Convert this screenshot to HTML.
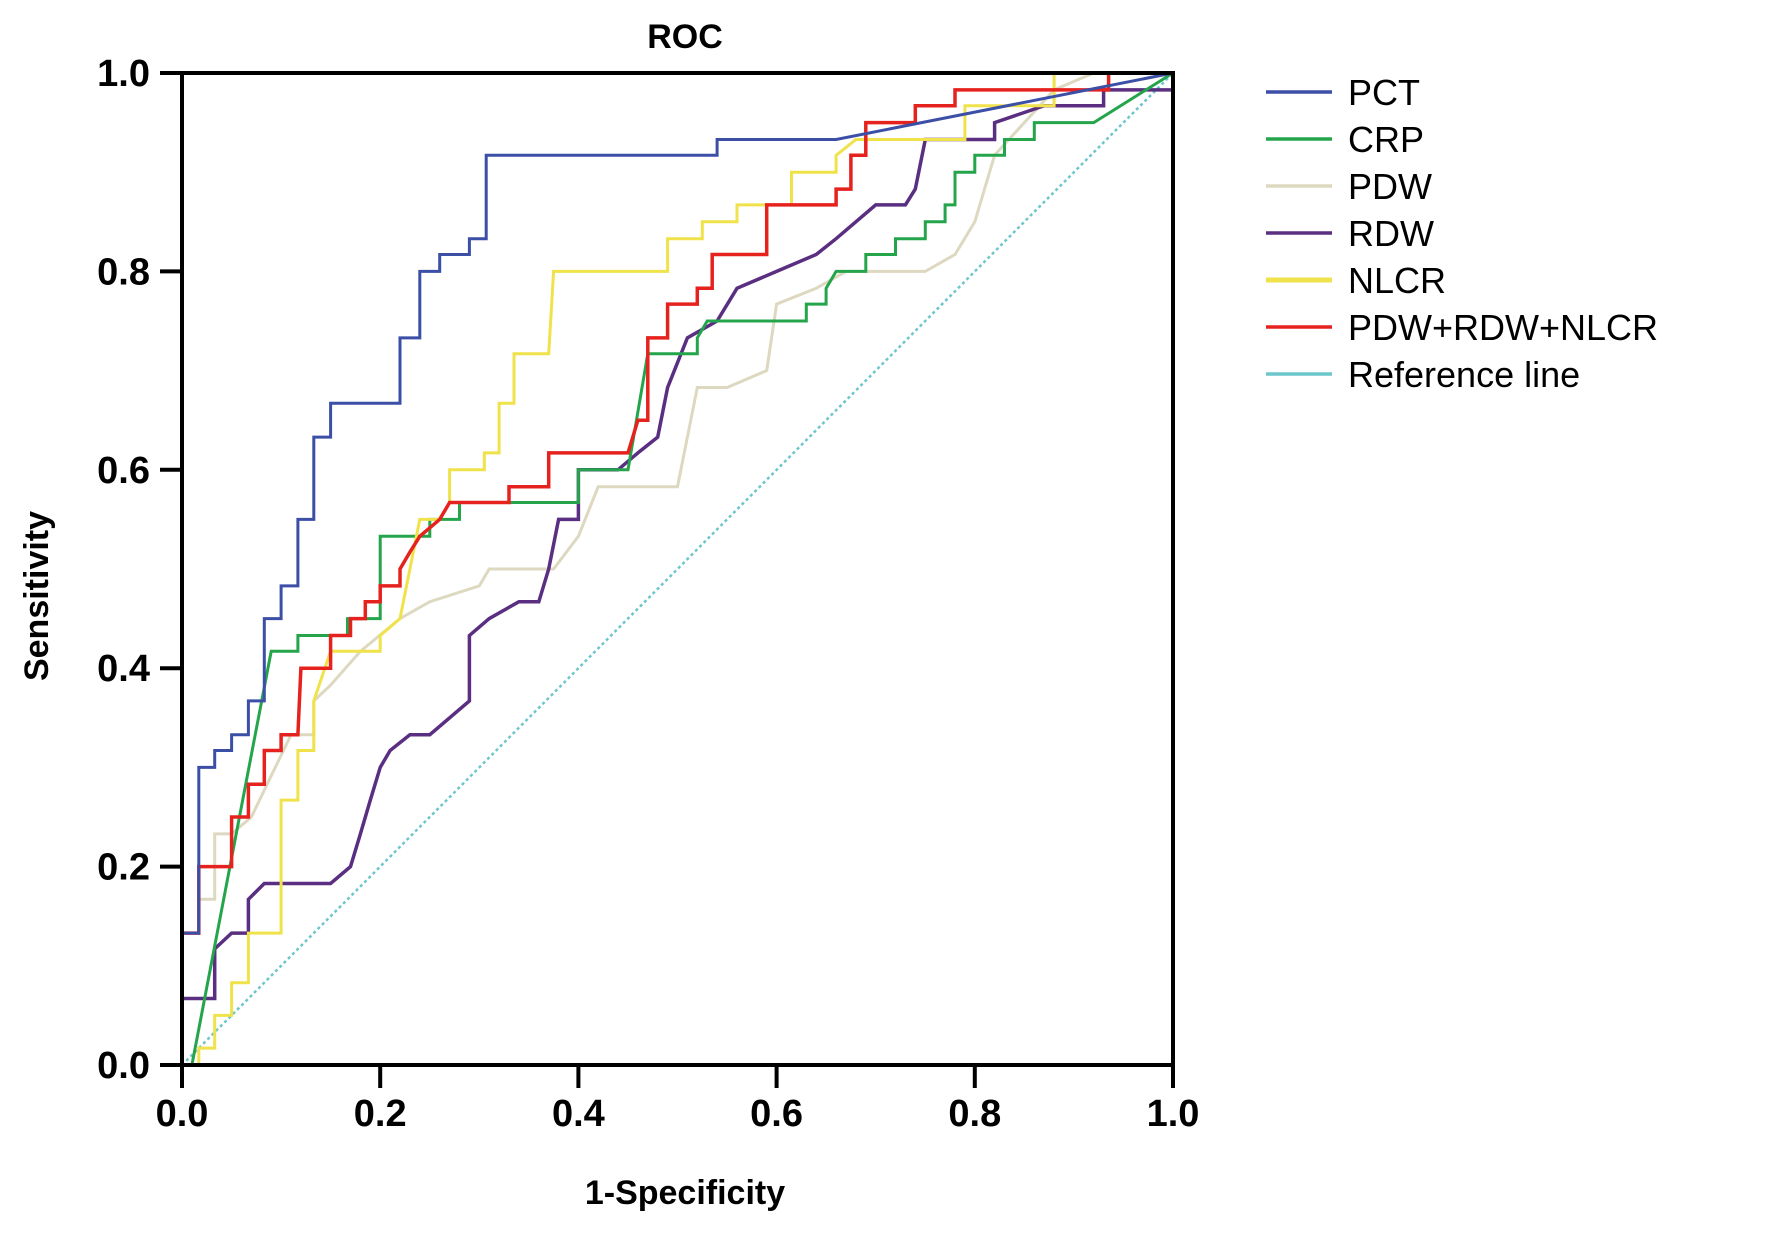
<!DOCTYPE html>
<html><head><meta charset="utf-8"><style>
html,body{margin:0;padding:0;background:#fff;}
svg text{font-family:"Liberation Sans",sans-serif;}
</style></head><body>
<svg id="chart" width="1772" height="1235" viewBox="0 0 1772 1235" xmlns="http://www.w3.org/2000/svg">
<rect width="1772" height="1235" fill="#fff"/>
<g id="series"></g>
<g id="axes"></g>
<text x="685" y="48" text-anchor="middle" font-size="34" font-weight="bold">ROC</text>
<text x="685" y="1204" text-anchor="middle" font-size="34" font-weight="bold">1-Specificity</text>
<text transform="translate(48,596) rotate(-90)" text-anchor="middle" font-size="34" font-weight="bold">Sensitivity</text>
<g id="legend"></g>
</svg>
<script>
const xTicks = [0, 0.2, 0.4, 0.6, 0.8, 1.0];
const yTicks = [0, 0.2, 0.4, 0.6, 0.8, 1.0];
const tickLabels = ["0.0","0.2","0.4","0.6","0.8","1.0"];
const seriesNames = ["PCT","CRP","PDW","RDW","NLCR","PDW+RDW+NLCR","Reference line"];
const pct = [[0,0],[0,0.133],[0.017,0.133],[0.017,0.3],[0.033,0.3],[0.033,0.317],[0.05,0.317],[0.05,0.333],[0.067,0.333],[0.067,0.367],[0.083,0.367],[0.083,0.45],[0.1,0.45],[0.1,0.483],[0.117,0.483],[0.117,0.55],[0.133,0.55],[0.133,0.633],[0.15,0.633],[0.15,0.667],[0.22,0.667],[0.22,0.733],[0.24,0.733],[0.24,0.8],[0.26,0.8],[0.26,0.817],[0.29,0.817],[0.29,0.833],[0.307,0.833],[0.307,0.917],[0.54,0.917],[0.54,0.933],[0.66,0.933],[1,1]];
const crp = [[0.01,0],[0.09,0.417],[0.117,0.417],[0.117,0.433],[0.167,0.433],[0.167,0.45],[0.2,0.45],[0.2,0.533],[0.25,0.533],[0.25,0.55],[0.28,0.55],[0.28,0.567],[0.4,0.567],[0.4,0.6],[0.45,0.6],[0.47,0.717],[0.52,0.717],[0.52,0.733],[0.53,0.75],[0.63,0.75],[0.63,0.767],[0.65,0.767],[0.65,0.783],[0.66,0.8],[0.69,0.8],[0.69,0.817],[0.72,0.817],[0.72,0.833],[0.75,0.833],[0.75,0.85],[0.77,0.85],[0.77,0.867],[0.78,0.867],[0.78,0.9],[0.8,0.9],[0.8,0.917],[0.83,0.917],[0.83,0.933],[0.86,0.933],[0.86,0.95],[0.92,0.95],[1,1]];
const pdw = [[0,0],[0,0.133],[0.017,0.133],[0.017,0.167],[0.033,0.167],[0.033,0.233],[0.05,0.233],[0.07,0.25],[0.11,0.333],[0.133,0.333],[0.133,0.367],[0.15,0.383],[0.18,0.417],[0.22,0.45],[0.25,0.467],[0.3,0.483],[0.31,0.5],[0.375,0.5],[0.4,0.533],[0.42,0.583],[0.5,0.583],[0.52,0.683],[0.55,0.683],[0.59,0.7],[0.6,0.767],[0.64,0.783],[0.67,0.8],[0.75,0.8],[0.78,0.817],[0.8,0.85],[0.82,0.917],[0.85,0.95],[0.88,0.983],[0.92,1],[1,1]];
const rdw = [[0,0],[0,0.067],[0.033,0.067],[0.033,0.117],[0.05,0.133],[0.067,0.133],[0.067,0.167],[0.083,0.183],[0.15,0.183],[0.17,0.2],[0.18,0.233],[0.19,0.267],[0.2,0.3],[0.21,0.317],[0.23,0.333],[0.25,0.333],[0.29,0.367],[0.29,0.433],[0.31,0.45],[0.34,0.467],[0.36,0.467],[0.37,0.5],[0.38,0.55],[0.4,0.55],[0.4,0.6],[0.44,0.6],[0.46,0.617],[0.48,0.633],[0.49,0.683],[0.51,0.733],[0.54,0.75],[0.56,0.783],[0.6,0.8],[0.64,0.817],[0.66,0.833],[0.7,0.867],[0.73,0.867],[0.74,0.883],[0.75,0.933],[0.82,0.933],[0.82,0.95],[0.87,0.967],[0.93,0.967],[0.93,0.983],[1,0.983],[1,1]];
const nlcr = [[0.017,0],[0.017,0.017],[0.033,0.017],[0.033,0.05],[0.05,0.05],[0.05,0.083],[0.067,0.083],[0.067,0.133],[0.1,0.133],[0.1,0.267],[0.117,0.267],[0.117,0.317],[0.133,0.317],[0.133,0.367],[0.15,0.417],[0.2,0.417],[0.2,0.433],[0.22,0.45],[0.23,0.5],[0.24,0.55],[0.26,0.55],[0.27,0.567],[0.27,0.6],[0.305,0.6],[0.305,0.617],[0.32,0.617],[0.32,0.667],[0.335,0.667],[0.335,0.717],[0.37,0.717],[0.375,0.8],[0.49,0.8],[0.49,0.833],[0.525,0.833],[0.525,0.85],[0.56,0.85],[0.56,0.867],[0.615,0.867],[0.615,0.9],[0.66,0.9],[0.66,0.917],[0.68,0.933],[0.79,0.933],[0.79,0.967],[0.88,0.967],[0.88,1],[1,1]];
const combo = [[0,0],[0,0.133],[0.017,0.133],[0.017,0.2],[0.05,0.2],[0.05,0.25],[0.067,0.25],[0.067,0.283],[0.083,0.283],[0.083,0.317],[0.1,0.317],[0.1,0.333],[0.117,0.333],[0.12,0.4],[0.15,0.4],[0.15,0.433],[0.17,0.433],[0.17,0.45],[0.185,0.45],[0.185,0.467],[0.2,0.467],[0.2,0.483],[0.22,0.483],[0.22,0.5],[0.23,0.517],[0.24,0.533],[0.26,0.55],[0.27,0.567],[0.33,0.567],[0.33,0.583],[0.37,0.583],[0.37,0.617],[0.45,0.617],[0.46,0.65],[0.47,0.65],[0.47,0.733],[0.49,0.733],[0.49,0.767],[0.52,0.767],[0.52,0.783],[0.535,0.783],[0.535,0.817],[0.59,0.817],[0.59,0.867],[0.66,0.867],[0.66,0.883],[0.675,0.883],[0.675,0.917],[0.69,0.917],[0.69,0.95],[0.74,0.95],[0.74,0.967],[0.78,0.967],[0.78,0.983],[0.935,0.983],[0.935,1],[1,1]];
const refLine = [[0,0],[1,1]];

const X0=182, X1=1173, Y0=1065, Y1=73;
const NS="http://www.w3.org/2000/svg";
function sx(v){return X0+(X1-X0)*v;}
function sy(v){return Y0-(Y0-Y1)*v;}
function mk(tag,attrs,parent){const e=document.createElementNS(NS,tag);for(const k in attrs)e.setAttribute(k,attrs[k]);parent.appendChild(e);return e;}

const seriesG=document.getElementById('series');
const axesG=document.getElementById('axes');
const legendG=document.getElementById('legend');
const styles=[
 {data:pct,color:"#3b4fa6",w:3,name:"pct-curve"},
 {data:crp,color:"#24a54b",w:3,name:"crp-curve"},
 {data:pdw,color:"#ddd8c0",w:3,name:"pdw-curve"},
 {data:rdw,color:"#5a2e80",w:3.5,name:"rdw-curve"},
 {data:nlcr,color:"#f0e24a",w:3,name:"nlcr-curve"},
 {data:combo,color:"#e6221e",w:3.5,name:"combo-curve"},
 {data:refLine,color:"#6cc6cc",w:2.5,name:"reference-line",dash:"3,3"}
];
const order=[6,2,3,1,4,5,0];
order.forEach(i=>{
 const s=styles[i];
 const pts=s.data.map(p=>sx(p[0]).toFixed(1)+","+sy(p[1]).toFixed(1)).join(" ");
 const a={points:pts,fill:"none",stroke:s.color,"stroke-width":s.w,"stroke-linejoin":"miter"};
 if(s.dash)a["stroke-dasharray"]=s.dash;
 const el=mk('polyline',a,seriesG);
 
 
});

const frame=mk('rect',{x:X0,y:Y1,width:X1-X0,height:Y0-Y1,fill:"none",stroke:"#000","stroke-width":4},axesG);


xTicks.forEach((v,i)=>{
 const t=mk('line',{x1:sx(v),x2:sx(v),y1:Y0,y2:Y0+23,stroke:"#000","stroke-width":4},axesG);
 
 
 const l=mk('text',{x:sx(v),y:Y0+61,"text-anchor":"middle","font-size":"38","font-weight":"bold"},axesG);
 l.textContent=tickLabels[i];
 
 
});
yTicks.forEach((v,i)=>{
 const t=mk('line',{x1:X0-22,x2:X0,y1:sy(v),y2:sy(v),stroke:"#000","stroke-width":4},axesG);
 
 
 const l=mk('text',{x:X0-32,y:sy(v)+13,"text-anchor":"end","font-size":"38","font-weight":"bold"},axesG);
 l.textContent=tickLabels[i];
 
 
});
styles.forEach((s,i)=>{
 const y=92+i*47;
 const ln=mk('line',{x1:1266,x2:1332,y1:y,y2:y,stroke:s.color,"stroke-width":i==4?5:3.5},legendG);
 
 
 const tx=mk('text',{x:1348,y:y+13,"font-size":"36"},legendG);
 tx.textContent=seriesNames[i];
 
 
});
</script>
</body></html>
